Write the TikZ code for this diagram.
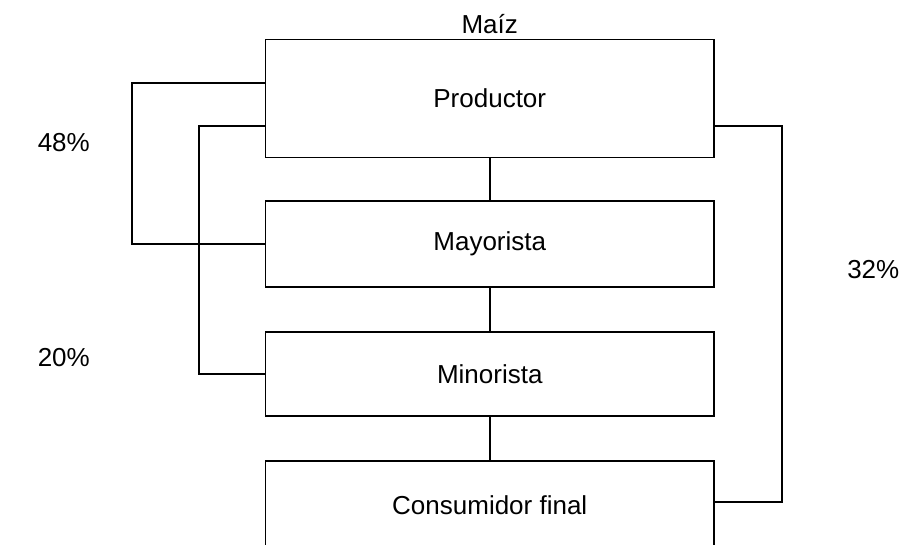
\documentclass[tikz,border=0pt]{standalone}
\usepackage{fontspec}
\setmainfont{Liberation Sans}
\begin{document}
\begin{tikzpicture}[x=1pt,y=-1pt,
  line width=1.5pt,
  lbl/.style={font=\fontsize{26}{30}\selectfont, inner sep=0pt},
  box/.style={draw, line width=1.5pt, minimum width=448.5pt, inner sep=0pt, font=\fontsize{26}{30}\selectfont},
]
\useasboundingbox (0,0) rectangle (902,544);
\clip (0,0) rectangle (902,544);
\node[box, minimum height=118pt] (prod) at (489.75,98.5) {Productor};
\node[box, minimum height=86pt] (may) at (489.75,244) {Mayorista};
\node[box, minimum height=84pt] (min) at (489.75,374) {Minorista};
\node[box, minimum height=88pt] (cons) at (489.75,505) {Consumidor final};
\node[lbl, anchor=base] (maiz) at (489.75,33) {Maíz};
\node[lbl, anchor=base west] (p48) at (37,151) {48\%};
\node[lbl, anchor=base west] (p20) at (37,366) {20\%};
\node[lbl, anchor=base west] (p32) at (846.5,278) {32\%};
\draw (prod.south) -- (may.north);
\draw (may.south) -- (min.north);
\draw (min.south) -- (cons.north);
\draw ([yshift=15.5pt]prod.west) -- ++(-133,0) |- (may.west);
\draw ([yshift=-27.5pt]prod.west) -- ++(-66,0) |- (min.west);
\draw ([yshift=-27.5pt]prod.east) -- ++(67,0) |- ([yshift=3pt]cons.east);
\end{tikzpicture}
\end{document}
